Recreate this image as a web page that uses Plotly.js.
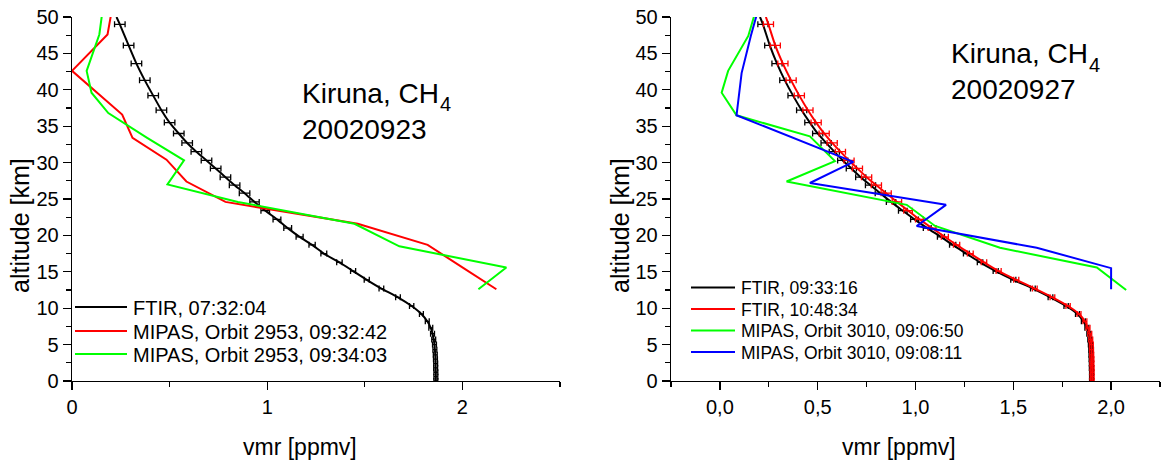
<!DOCTYPE html>
<html>
<head>
<meta charset="utf-8">
<script src="https://cdn.plot.ly/plotly-3.0.1.min.js"></script>
<style>html,body{margin:0;padding:0;background:#fff;}#chart{width:1175px;height:462px;}</style>
</head>
<body>
<div id="chart"></div>
<script>
// ---------- data ----------
// FTIR retrieval grid altitudes [km]
const ftirAlt = [50.0, 49.0, 46.1, 43.6, 41.3, 39.2, 37.2, 35.5, 34.0, 32.7, 31.5, 30.3, 29.2, 28.0, 26.9, 25.8, 24.6, 23.4, 22.2, 21.0, 19.8, 18.7, 17.5, 16.3, 15.1, 13.9, 12.7, 11.5, 10.3, 9.2, 8.2, 7.3, 6.5, 5.7, 5.0, 4.3, 3.6, 3.0, 2.4, 1.8, 1.2, 0.6, 0.0];

// Left panel: 20020923
const leftFtirVmr = [0.228, 0.245, 0.29, 0.33, 0.373, 0.416, 0.458, 0.50, 0.547, 0.59, 0.637, 0.689, 0.736, 0.786, 0.833, 0.884, 0.935, 0.99, 1.05, 1.105, 1.166, 1.23, 1.29, 1.37, 1.44, 1.51, 1.585, 1.67, 1.74, 1.79, 1.82, 1.838, 1.847, 1.853, 1.857, 1.859, 1.861, 1.862, 1.863, 1.863, 1.864, 1.864, 1.864];
const leftFtirErr = [0, 0.027, 0.027, 0.027, 0.027, 0.027, 0.027, 0.027, 0.027, 0.027, 0.027, 0.027, 0.027, 0.027, 0.027, 0.027, 0.024, 0.022, 0.02, 0.02, 0.018, 0.016, 0.015, 0.014, 0.013, 0.013, 0.012, 0.012, 0.011, 0.01, 0.01, 0.01, 0.01, 0.01, 0.01, 0.01, 0.01, 0.01, 0.01, 0.01, 0.01, 0.01, 0.01];

const leftMipasAAlt = [52.6, 47.6, 42.6, 39.6, 36.6, 33.4, 30.4, 27.4, 24.6, 21.6, 18.7, 15.6, 12.6];
const leftMipasAVmr = [0.215, 0.182, 0.0, 0.13, 0.257, 0.31, 0.484, 0.586, 0.786, 1.464, 1.822, 2.0, 2.174];
const leftMipasBAlt = [52.6, 47.6, 42.6, 39.6, 36.8, 33.4, 30.3, 27.0, 24.6, 21.6, 18.5, 15.6, 12.6];
const leftMipasBVmr = [0.165, 0.14, 0.075, 0.10, 0.186, 0.385, 0.574, 0.489, 0.85, 1.447, 1.677, 2.225, 2.082];

// Right panel: 20020927
const rightFtirAVmr = [0.205, 0.22, 0.255, 0.292, 0.332, 0.374, 0.418, 0.46, 0.50, 0.543, 0.585, 0.628, 0.672, 0.72, 0.77, 0.82, 0.875, 0.935, 0.995, 1.06, 1.13, 1.19, 1.26, 1.33, 1.41, 1.50, 1.60, 1.69, 1.77, 1.828, 1.858, 1.876, 1.886, 1.891, 1.894, 1.896, 1.897, 1.898, 1.899, 1.899, 1.9, 1.9, 1.9];
const rightFtirBVmr = [0.235, 0.248, 0.283, 0.322, 0.364, 0.406, 0.45, 0.492, 0.533, 0.574, 0.616, 0.66, 0.703, 0.75, 0.80, 0.85, 0.905, 0.962, 1.02, 1.085, 1.15, 1.21, 1.28, 1.35, 1.425, 1.515, 1.61, 1.70, 1.78, 1.836, 1.866, 1.882, 1.891, 1.896, 1.899, 1.9, 1.901, 1.902, 1.902, 1.903, 1.903, 1.903, 1.903];
const rightFtirErr = [0, 0.026, 0.026, 0.026, 0.026, 0.026, 0.026, 0.026, 0.026, 0.026, 0.026, 0.026, 0.026, 0.026, 0.026, 0.026, 0.024, 0.022, 0.02, 0.02, 0.018, 0.016, 0.015, 0.014, 0.013, 0.013, 0.012, 0.012, 0.011, 0.01, 0.01, 0.01, 0.01, 0.01, 0.01, 0.01, 0.01, 0.01, 0.01, 0.01, 0.01, 0.01, 0.01];

const rightMipasAAlt = [52.4, 47.4, 42.6, 39.6, 36.5, 33.6, 30.2, 27.4, 24.2, 21.3, 18.3, 15.6, 12.5];
const rightMipasAVmr = [0.20, 0.145, 0.042, 0.009, 0.085, 0.46, 0.588, 0.341, 0.955, 1.10, 1.432, 1.927, 2.077];
const rightMipasBAlt = [52.4, 47.4, 42.3, 36.5, 30.1, 27.2, 24.2, 21.3, 18.3, 15.5, 12.6];
const rightMipasBVmr = [0.21, 0.158, 0.111, 0.085, 0.682, 0.46, 1.156, 1.006, 1.62, 2.0, 2.0];

const leftNames = ['FTIR, 07:32:04', 'MIPAS, Orbit 2953, 09:32:42', 'MIPAS, Orbit 2953, 09:34:03'];
const rightNames = ['FTIR, 09:33:16', 'FTIR, 10:48:34', 'MIPAS, Orbit 3010, 09:06:50', 'MIPAS, Orbit 3010, 09:08:11'];
const leftLabel = ['Kiruna, CH', '4', '20020923'];
const rightLabel = ['Kiruna, CH', '4', '20020927'];
const xTitle = 'vmr [ppmv]';
const yTitle = 'altitude [km]';

// ---------- styling ----------
const FONT = '"Liberation Sans", Arial, sans-serif';
const BLACK = '#000000', RED = '#ff0000', GREEN = '#00ff00', BLUE = '#0000ff';
const leftColors = [BLACK, RED, GREEN];
const rightColors = [BLACK, RED, GREEN, BLUE];
const LW = 2;

function errTrace(x, y, err, color, xa, ya) {
  return {
    x: x.slice(1), y: y.slice(1), type: 'scatter', mode: 'markers',
    marker: {size: 0.1, color: color, opacity: 0},
    error_x: {type: 'data', array: err.slice(1), visible: true, color: color, thickness: 1.3, width: 3},
    xaxis: xa, yaxis: ya, showlegend: false, hoverinfo: 'skip'
  };
}
function lineTrace(x, y, color, name, xa, ya, spline) {
  return {
    x: x, y: y, type: 'scatter', mode: 'lines', name: name,
    line: {color: color, width: LW, shape: spline ? 'spline' : 'linear', smoothing: 0.6},
    xaxis: xa, yaxis: ya, showlegend: false
  };
}

const traces = [
  errTrace(leftFtirVmr, ftirAlt, leftFtirErr, BLACK, 'x', 'y'),
  lineTrace(leftFtirVmr, ftirAlt, leftColors[0], leftNames[0], 'x', 'y', true),
  lineTrace(leftMipasAVmr, leftMipasAAlt, leftColors[1], leftNames[1], 'x', 'y', false),
  lineTrace(leftMipasBVmr, leftMipasBAlt, leftColors[2], leftNames[2], 'x', 'y', false),
  errTrace(rightFtirAVmr, ftirAlt, rightFtirErr, BLACK, 'x2', 'y2'),
  lineTrace(rightFtirAVmr, ftirAlt, rightColors[0], rightNames[0], 'x2', 'y2', true),
  errTrace(rightFtirBVmr, ftirAlt, rightFtirErr, RED, 'x2', 'y2'),
  lineTrace(rightFtirBVmr, ftirAlt, rightColors[1], rightNames[1], 'x2', 'y2', true),
  lineTrace(rightMipasAVmr, rightMipasAAlt, rightColors[2], rightNames[2], 'x2', 'y2', false),
  lineTrace(rightMipasBVmr, rightMipasBAlt, rightColors[3], rightNames[3], 'x2', 'y2', false)
];

const W = 1175, H = 462;
const px = v => v / W, py = v => (H - v) / H;
const dom = { lx: [px(72), px(560)], rx: [px(671), px(1160)], y: [py(381), py(17)] };
const tickFont = {family: FONT, size: 20, color: '#000'};

function minor(d, dir) { return {dtick: d, ticks: dir, ticklen: 5, tickwidth: 1.3, tickcolor: '#000'}; }
function baseAxis(extra) {
  return Object.assign({
    showgrid: false, zeroline: false, showline: true, linecolor: '#000', linewidth: 1.3,
    ticks: 'outside', ticklen: 8, tickwidth: 1.3, tickcolor: '#000',
    tickfont: tickFont, fixedrange: true
  }, extra);
}
function mirrorAxis(extra) {
  return Object.assign({
    showgrid: false, zeroline: false, showline: true, linecolor: '#000', linewidth: 1.3,
    ticks: 'inside', ticklen: 8, tickwidth: 1.3, tickcolor: '#000',
    showticklabels: false, fixedrange: true
  }, extra);
}

// text annotations (panel labels, axis titles, legends)
const annotations = [];
const shapes = [];
function addText(text, x, y, size, xanchor, yanchor, angle) {
  annotations.push({text: text, xref: 'paper', yref: 'paper', x: px(x), y: py(y),
    xanchor: xanchor, yanchor: yanchor, align: 'left', showarrow: false, textangle: angle || 0,
    font: {family: FONT, size: size, color: '#000'}});
}
// panel labels: main text, subscript "4", date
addText(leftLabel[0] + '<br>' + leftLabel[2], 300, 76, 28, 'left', 'top');
addText(leftLabel[1], 438.5, 104.5, 20, 'left', 'middle');
addText(rightLabel[0] + '<br>' + rightLabel[2], 949, 36, 28, 'left', 'top');
addText(rightLabel[1], 1087, 65, 20, 'left', 'middle');
// axis titles
addText(xTitle, 300, 447, 23, 'center', 'middle');
addText(xTitle, 899, 447, 23, 'center', 'middle');
addText(yTitle, 20, 226, 25, 'center', 'middle', -90);
addText(yTitle, 620, 226, 25, 'center', 'middle', -90);

function addLegend(names, colors, x0, x1, xt, rows, size) {
  names.forEach((n, i) => {
    shapes.push({type: 'line', xref: 'paper', yref: 'paper', x0: px(x0), x1: px(x1), y0: py(rows[i]), y1: py(rows[i]),
      line: {color: colors[i], width: LW}});
    addText(n, xt, rows[i] + 1, size, 'left', 'middle');
  });
}
addLegend(leftNames, leftColors, 75, 127, 131, [307, 331, 354], 20);
addLegend(rightNames, rightColors, 691, 735, 739, [287.5, 309, 330.5, 352], 17.5);

const layout = {
  width: W, height: H,
  margin: {l: 0, r: 0, t: 0, b: 0},
  paper_bgcolor: '#fff', plot_bgcolor: '#fff',
  separators: ',.',
  font: {family: FONT, color: '#000'},
  showlegend: false,
  xaxis: baseAxis({domain: dom.lx, range: [0, 2.5], dtick: 1, tick0: 0, anchor: 'y', minor: minor(0.5, 'outside')}),
  yaxis: baseAxis({domain: dom.y, range: [0, 50], dtick: 5, tick0: 0, anchor: 'x', minor: minor(2.5, 'outside')}),
  xaxis2: baseAxis({domain: dom.rx, range: [-0.25, 2.25], dtick: 0.5, tick0: 0, tickformat: '.1f', anchor: 'y2', minor: minor(0.25, 'outside')}),
  yaxis2: baseAxis({domain: dom.y, range: [0, 50], dtick: 5, tick0: 0, anchor: 'x2', minor: minor(2.5, 'outside')}),
  xaxis3: mirrorAxis({overlaying: 'x', side: 'top', anchor: 'y', range: [0, 2.5], dtick: 1, tick0: 0, minor: minor(0.5, 'inside')}),
  yaxis3: mirrorAxis({overlaying: 'y', side: 'right', anchor: 'x', range: [0, 50], dtick: 5, tick0: 0, minor: minor(2.5, 'inside')}),
  xaxis4: mirrorAxis({overlaying: 'x2', side: 'top', anchor: 'y2', range: [-0.25, 2.25], dtick: 0.5, tick0: 0, minor: minor(0.25, 'inside')}),
  yaxis4: mirrorAxis({overlaying: 'y2', side: 'right', anchor: 'x2', range: [0, 50], dtick: 5, tick0: 0, minor: minor(2.5, 'inside')}),
  annotations: annotations,
  shapes: shapes
};

function cleanEmptyTexts(gd) {
  gd.querySelectorAll('text').forEach(t => {
    if (!t.textContent.replace(/[\s\u200b]/g, '')) t.remove();
  });
}
Plotly.newPlot('chart', traces, layout, {staticPlot: true, displayModeBar: false}).then(gd => {
  cleanEmptyTexts(gd);
  setTimeout(() => cleanEmptyTexts(gd), 50);
});
</script>
</body>
</html>
